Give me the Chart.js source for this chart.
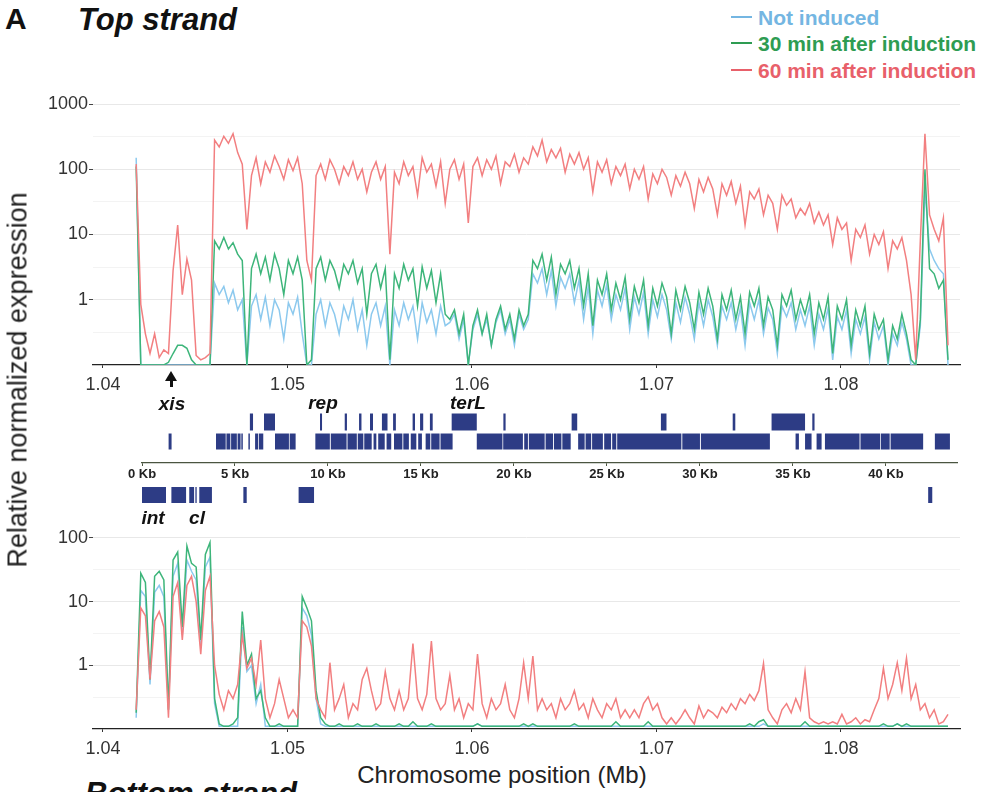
<!DOCTYPE html>
<html><head><meta charset="utf-8">
<script src="https://cdn.jsdelivr.net/npm/chart.js@4.4.1/dist/chart.umd.min.js"></script>
<style>
html,body{margin:0;padding:0;background:#fff;}
body{width:983px;height:792px;overflow:hidden;position:relative;font-family:'Liberation Sans',Arial,Helvetica,sans-serif;color:#111;}
canvas{position:absolute;left:0;}
.t{position:absolute;white-space:nowrap;line-height:1;}
.c{transform:translate(-50%,-50%);}
.gl{position:absolute;font-weight:bold;font-style:italic;font-size:19px;line-height:1;transform:translate(-50%,-50%);color:#111;}
.leg{position:absolute;left:731px;width:21px;height:2px;}
.legt{position:absolute;left:758px;font-weight:bold;font-size:21px;line-height:1;transform:translateY(-50%);white-space:nowrap;}
</style></head>
<body>
<canvas id="topChart" width="983" height="310" style="top:85px"></canvas>
<canvas id="geneRow1" width="983" height="20" style="top:412px"></canvas>
<canvas id="geneRow2" width="983" height="58" style="top:432px"></canvas>
<canvas id="geneRow3" width="983" height="30" style="top:480px"></canvas>
<canvas id="bottomChart" width="983" height="239" style="top:520px"></canvas>

<div class="t" style="left:5px;top:4px;font-weight:bold;font-size:30px;">A</div>
<div class="t" style="left:78px;top:4px;font-weight:bold;font-style:italic;font-size:31px;">Top strand</div>
<div class="t" style="left:85px;top:778px;font-weight:bold;font-style:italic;font-size:31px;">Bottom strand</div>

<div class="leg" style="top:16px;background:#74b6e2"></div>
<div class="legt" style="top:17px;color:#74b6e2">Not induced</div>
<div class="leg" style="top:42px;background:#2e9c52"></div>
<div class="legt" style="top:43px;color:#2e9c52">30 min after induction</div>
<div class="leg" style="top:69px;background:#e8606a"></div>
<div class="legt" style="top:70px;color:#e8606a">60 min after induction</div>

<div class="t" style="left:18px;top:380px;font-size:27px;color:#222;transform:translate(-50%,-50%) rotate(-90deg);">Relative normalized expression</div>
<div class="t c" style="left:502px;top:775px;font-size:24px;color:#222;">Chromosome position (Mb)</div>

<div style="position:absolute;left:165px;top:371px;width:0;height:0;border-left:6px solid transparent;border-right:6px solid transparent;border-bottom:10px solid #111;"></div>
<div style="position:absolute;left:169.5px;top:380px;width:3px;height:7px;background:#111;"></div>
<div class="gl" style="left:172px;top:403px;">xis</div>
<div class="gl" style="left:323px;top:402px;">rep</div>
<div class="gl" style="left:468px;top:402px;">terL</div>
<div class="gl" style="left:153px;top:517px;">int</div>
<div class="gl" style="left:197px;top:517px;">cl</div>

<script>
// ---------------- DATA ----------------
const seriesNames = ['Not induced', '30 min after induction', '60 min after induction'];

// bin positions along the chromosome (Mb)
const positionsMb = [
1.04180,1.04205,1.04230,1.04255,1.04280,1.04305,1.04330,1.04355,
1.04380,1.04405,1.04430,1.04455,1.04480,1.04505,1.04530,1.04555,
1.04580,1.04605,1.04630,1.04655,1.04680,1.04705,1.04730,1.04755,
1.04780,1.04805,1.04830,1.04855,1.04880,1.04905,1.04930,1.04955,
1.04980,1.05005,1.05030,1.05055,1.05080,1.05105,1.05130,1.05155,
1.05180,1.05205,1.05230,1.05255,1.05280,1.05305,1.05330,1.05355,
1.05380,1.05405,1.05430,1.05455,1.05480,1.05505,1.05530,1.05555,
1.05580,1.05605,1.05630,1.05655,1.05680,1.05705,1.05730,1.05755,
1.05780,1.05805,1.05830,1.05855,1.05880,1.05905,1.05930,1.05955,
1.05980,1.06005,1.06030,1.06055,1.06080,1.06105,1.06130,1.06155,
1.06180,1.06205,1.06230,1.06255,1.06280,1.06305,1.06330,1.06355,
1.06380,1.06405,1.06430,1.06455,1.06480,1.06505,1.06530,1.06555,
1.06580,1.06605,1.06630,1.06655,1.06680,1.06705,1.06730,1.06755,
1.06780,1.06805,1.06830,1.06855,1.06880,1.06905,1.06930,1.06955,
1.06980,1.07005,1.07030,1.07055,1.07080,1.07105,1.07130,1.07155,
1.07180,1.07205,1.07230,1.07255,1.07280,1.07305,1.07330,1.07355,
1.07380,1.07405,1.07430,1.07455,1.07480,1.07505,1.07530,1.07555,
1.07580,1.07605,1.07630,1.07655,1.07680,1.07705,1.07730,1.07755,
1.07780,1.07805,1.07830,1.07855,1.07880,1.07905,1.07930,1.07955,
1.07980,1.08005,1.08030,1.08055,1.08080,1.08105,1.08130,1.08155,
1.08180,1.08205,1.08230,1.08255,1.08280,1.08305,1.08330,1.08355,
1.08380,1.08405,1.08430,1.08455,1.08480,1.08505,1.08530,1.08555,
1.08580
];

// Top strand
const topNotInduced = [
150,0.1,0.1,0.1,0.1,0.1,0.1,0.1,0.1,0.1,
0.1,0.1,0.1,0.1,0.1,0.1,0.1,1.8,1.2,1.6,
0.9,1.4,0.7,1,0.1,0.8,1.2,0.5,1.1,0.4,
1,0.7,0.25,0.9,0.6,1.1,0.3,0.1,0.1,0.6,
1,0.4,0.9,0.6,0.3,0.8,0.5,1,0.35,0.7,
0.2,0.6,0.9,0.4,0.8,0.1,0.7,0.4,0.9,0.5,
0.8,0.25,0.9,0.45,0.7,0.3,0.8,0.4,0.45,0.6,
0.25,0.5,0.1,0.35,0.6,0.3,0.5,0.2,0.45,0.7,
0.3,0.5,0.2,0.6,0.35,0.5,2.5,1.8,3,1.2,
2.8,0.8,2.2,1.5,2.5,0.9,2,0.5,1.6,0.3,
1.4,0.8,1.7,0.5,1.2,0.7,1.5,0.35,1.1,0.6,
1.3,0.3,1,0.55,1.2,0.7,0.25,0.9,0.45,1.1,
0.6,0.25,0.9,0.4,1,0.55,0.2,0.8,0.5,0.9,
0.35,0.75,0.2,0.9,0.5,1,0.3,0.75,0.5,0.15,
0.8,0.55,0.9,0.35,0.7,0.4,0.8,0.2,0.6,0.35,
0.75,0.12,0.55,0.35,0.7,0.15,0.5,0.3,0.55,0.12,
0.45,0.25,0.4,0.1,0.3,0.2,0.45,0.25,0.1,0.1,
0.4,50,6,4,3,2.5,0.1];
const top30min = [
110,0.1,0.1,0.1,0.1,0.1,0.1,0.11,0.15,0.2,
0.2,0.18,0.12,0.1,0.1,0.1,0.1,8,6,9,
6,7.5,5,4,0.1,3,5,2.5,4.5,2,
5,3,1.2,4,2.5,4.5,2,0.1,0.12,3,
4.5,2,4,2.8,1.5,3.5,2.5,4,1.8,3,
0.6,2.5,3.5,1.5,3,0.12,2.5,1.5,3.5,2,
3,0.8,3.2,1.5,2.8,0.9,2.5,0.6,0.5,0.7,
0.3,0.6,0.1,0.4,0.7,0.3,0.6,0.2,0.5,0.8,
0.35,0.6,0.25,0.7,0.4,0.6,4,3,5,2,
4.5,1.2,3.5,2.5,4,1.5,3,0.8,2.5,0.4,
2,1.2,2.5,0.7,1.8,1,2.2,0.5,1.6,0.9,
2,0.4,1.5,0.8,1.8,1.1,0.3,1.4,0.7,1.6,
0.9,0.35,1.3,0.6,1.5,0.8,0.25,1.2,0.7,1.4,
0.5,1.1,0.3,1.3,0.8,1.5,0.4,1.1,0.7,0.2,
1.2,0.8,1.4,0.5,1,0.6,1.2,0.3,0.9,0.5,
1.1,0.15,0.8,0.5,1,0.2,0.7,0.4,0.8,0.15,
0.6,0.35,0.5,0.12,0.4,0.25,0.6,0.3,0.12,0.1,
0.5,100,3,2.5,1.5,2,0.12];
const top60min = [
120,0.85,0.3,0.15,0.3,0.13,0.17,0.15,2.8,14,
1.2,4.2,2.0,0.14,0.12,0.13,0.15,280,220,320,
250,350,180,120,12,80,150,60,130,90,
160,110,70,140,95,150,60,4,2,80,
120,70,140,100,60,110,80,130,70,100,
45,90,130,70,110,5,90,60,130,80,
110,40,150,90,120,55,130,30,100,140,
70,120,15,110,150,80,140,100,160,60,
130,110,170,90,150,120,220,160,280,130,
200,150,210,90,170,120,180,100,150,45,
130,90,140,60,110,80,120,50,100,70,
110,35,85,60,100,75,40,80,55,90,
60,25,70,45,75,50,20,60,40,65,
30,55,14,45,35,50,20,40,30,12,
40,28,35,18,25,20,30,15,22,14,
20,7,18,12,15,4,12,9,14,5,
10,7,11,3,8,6,9,4,1.2,0.12,
8,350,20,12,8,18,0.2];

// Bottom strand
const bottomNotInduced = [
0.15,15,12,0.5,14,18,12,0.2,25,40,
3,45,30,22,2,35,50,0.25,0.11,0.11,
0.11,0.11,0.11,4,0.8,1,0.25,0.5,0.11,0.11,
0.11,0.11,0.11,0.11,0.11,0.11,8,6,3,0.3,
0.12,0.11,0.11,0.11,0.11,0.11,0.11,0.11,0.11,0.11,
0.11,0.11,0.11,0.11,0.11,0.11,0.11,0.11,0.11,0.11,
0.11,0.11,0.11,0.11,0.11,0.11,0.11,0.11,0.11,0.11,
0.11,0.11,0.11,0.11,0.12,0.11,0.11,0.11,0.11,0.11,
0.11,0.11,0.11,0.11,0.11,0.11,0.11,0.11,0.11,0.11,
0.11,0.11,0.11,0.11,0.11,0.11,0.11,0.11,0.11,0.11,
0.11,0.11,0.11,0.11,0.11,0.11,0.11,0.11,0.11,0.11,
0.11,0.11,0.11,0.11,0.11,0.11,0.11,0.11,0.11,0.11,
0.11,0.11,0.11,0.11,0.11,0.11,0.11,0.11,0.11,0.11,
0.11,0.11,0.11,0.11,0.11,0.11,0.12,0.11,0.11,0.11,
0.11,0.11,0.11,0.11,0.11,0.11,0.11,0.11,0.11,0.11,
0.11,0.11,0.11,0.11,0.11,0.11,0.11,0.11,0.11,0.11,
0.11,0.11,0.11,0.11,0.11,0.12,0.11,0.11,0.11,0.11,
0.11,0.11,0.11,0.11,0.11,0.11,0.11];
const bottom30min = [
0.18,28,20,0.6,25,30,22,0.2,45,60,
4,75,40,35,2.5,55,85,0.3,0.12,0.11,
0.11,0.12,0.15,7,1,1.5,0.3,0.4,0.15,0.11,
0.11,0.12,0.11,0.11,0.11,0.11,12,8,5,0.4,
0.15,0.12,0.11,0.11,0.12,0.11,0.11,0.11,0.12,0.11,
0.11,0.11,0.12,0.11,0.11,0.11,0.11,0.12,0.11,0.11,
0.13,0.11,0.11,0.11,0.12,0.11,0.11,0.11,0.11,0.11,
0.11,0.11,0.11,0.11,0.12,0.11,0.11,0.11,0.11,0.11,
0.11,0.11,0.11,0.11,0.12,0.11,0.12,0.11,0.11,0.11,
0.11,0.11,0.11,0.11,0.11,0.12,0.11,0.11,0.11,0.11,
0.11,0.11,0.11,0.11,0.13,0.11,0.11,0.11,0.11,0.11,
0.11,0.13,0.11,0.11,0.11,0.11,0.11,0.11,0.11,0.11,
0.11,0.11,0.11,0.11,0.11,0.11,0.11,0.11,0.11,0.11,
0.11,0.11,0.11,0.12,0.11,0.13,0.14,0.11,0.11,0.11,
0.11,0.11,0.11,0.11,0.11,0.13,0.11,0.11,0.11,0.11,
0.11,0.11,0.11,0.11,0.11,0.11,0.11,0.11,0.11,0.11,
0.11,0.11,0.12,0.11,0.11,0.12,0.11,0.12,0.11,0.11,
0.11,0.11,0.11,0.11,0.11,0.11,0.11];
const bottom60min = [
0.2,8,6,0.6,5,7,4,0.15,12,20,
2.5,18,25,10,1.5,15,25,1,0.35,0.2,
0.4,0.3,0.5,3,0.9,1.3,0.5,2.5,0.3,0.15,
0.25,0.6,0.3,0.15,0.2,0.15,5,4,2,0.3,
0.2,0.15,1.1,0.2,0.3,0.5,0.15,0.25,0.2,0.6,
0.9,0.4,0.2,0.25,0.8,0.3,0.2,0.4,0.2,0.3,
2.2,0.3,0.2,0.35,2.4,0.3,0.2,0.25,0.7,0.2,
0.3,0.15,0.25,0.2,1.5,0.25,0.15,0.3,0.2,0.25,
0.5,0.2,0.15,0.3,1.1,0.3,1.4,0.2,0.3,0.2,
0.25,0.15,0.3,0.2,0.25,0.4,0.2,0.25,0.15,0.3,
0.2,0.15,0.25,0.2,0.3,0.15,0.2,0.15,0.2,0.15,
0.25,0.32,0.2,0.25,0.15,0.12,0.15,0.12,0.15,0.2,
0.15,0.12,0.23,0.15,0.2,0.18,0.15,0.22,0.18,0.25,
0.2,0.3,0.25,0.35,0.28,0.4,1.07,0.2,0.15,0.12,
0.2,0.25,0.18,0.3,0.2,0.8,0.15,0.13,0.12,0.13,
0.12,0.13,0.12,0.17,0.12,0.13,0.15,0.12,0.14,0.13,
0.2,0.3,0.9,0.3,0.5,1.1,0.4,1.3,0.3,0.5,
0.2,0.25,0.15,0.2,0.12,0.13,0.17];

// axis ticks
const xTicksMb = [1.04, 1.05, 1.06, 1.07, 1.08];
const yMajorTicks = [1, 10, 100, 1000];
const yMinorGrid = [0.316, 3.16, 31.6, 316];
const kbTicks = [0, 5, 10, 15, 20, 25, 30, 35, 40];

// gene map (start, end in Kb)
const genesFrameA = [[5.8,5.97],[6.56,7.15],[9.57,9.68],[10.9,11.02],[11.67,11.8],[12.26,12.42],[12.9,13.2],[13.5,13.65],[14.55,14.68],[14.95,15.12],[15.48,15.63],[16.65,18.0],[19.43,19.55],[23.1,23.4],[27.9,28.2],[31.76,31.9],[33.85,35.65],[36.04,36.16]];
const genesFrameB = [[1.43,1.59],[3.98,4.5],[4.54,4.75],[4.79,5.1],[5.14,5.3],[5.34,5.42],[5.72,5.8],[6.08,6.25],[6.29,6.52],[7.15,7.9],[7.94,8.26],[9.32,10.1],[10.15,11.0],[11.05,11.55],[11.6,11.9],[11.95,12.35],[12.45,12.6],[12.7,13.05],[13.15,13.4],[13.55,14.0],[14.05,14.35],[14.45,14.75],[14.85,15.05],[15.25,15.5],[15.55,16.0],[16.05,16.7],[18.0,19.38],[19.42,20.48],[20.55,20.75],[20.8,21.65],[21.7,22.1],[22.15,22.55],[22.6,23.05],[23.45,23.8],[23.85,24.15],[24.2,24.78],[24.85,25.22],[25.28,25.5],[25.55,29.0],[29.05,30.0],[30.05,33.76],[35.14,35.32],[35.65,36.0],[36.27,36.54],[36.72,38.58],[38.63,39.68],[39.72,40.2],[40.25,42.0],[42.63,43.44]];
const genesMinus = [[0,1.29],[1.58,2.37],[2.54,2.8],[2.87,2.94],[3.08,3.76],[5.45,5.63],[8.42,9.25],[42.27,42.49]];

// ---------------- STYLE ----------------
const FONT = "'Liberation Sans', Arial, Helvetica, sans-serif";
Chart.defaults.font.family = FONT;
Chart.defaults.animation = false;
const colBlue = '#8cc9ee', colGreen = '#3db57a', colRed = '#f27f80', colGene = '#2d3c85';

const toPoints = vals => positionsMb.map((x, i) => ({x: x, y: vals[i]}));

function lineDs(label, vals, color, order) {
  return {label, data: toPoints(vals), borderColor: color, backgroundColor: color,
    borderWidth: 1.5, pointRadius: 0, tension: 0, order: order, spanGaps: true};
}

function makeExpressionChart(id, vals, yMax, padTop) {
  const isMajor = v => yMajorTicks.includes(v);
  return new Chart(document.getElementById(id), {
    type: 'line',
    data: { datasets: [
      lineDs(seriesNames[0], vals[0], colBlue, 3),
      lineDs(seriesNames[1], vals[1], colGreen, 2),
      lineDs(seriesNames[2], vals[2], colRed, 1)
    ]},
    options: {
      responsive: false, animation: false, events: [],
      layout: { padding: { left: 0, right: 23, top: padTop, bottom: 0 } },
      plugins: { legend: { display: false }, tooltip: { enabled: false } },
      scales: {
        x: {
          type: 'linear', min: 1.03946, max: 1.08645,
          afterBuildTicks: s => { s.ticks = xTicksMb.map(v => ({value: v})); },
          afterFit: s => { s.height = 30; s.paddingLeft = 0; s.paddingRight = 0; },
          ticks: { callback: v => Number(v).toFixed(2), font: {size: 18}, color: '#333', padding: 6, maxRotation: 0, autoSkip: false },
          grid: { drawOnChartArea: false, drawTicks: true, tickLength: 3, tickColor: '#333' },
          border: { display: true, color: '#222', width: 1.3 }
        },
        y: {
          type: 'logarithmic', min: 0.1, max: yMax,
          afterBuildTicks: s => {
            s.ticks = yMajorTicks.concat(yMinorGrid).filter(v => v < yMax && v > 0.1)
              .sort((a, b) => a - b).map(v => ({value: v}));
          },
          afterFit: s => { s.width = 93; s.paddingTop = 0; s.paddingBottom = 0; },
          ticks: { callback: v => isMajor(v) ? String(v) : '', font: {size: 18}, color: '#333', padding: 1, autoSkip: false },
          grid: {
            color: c => (c.tick && isMajor(c.tick.value)) ? '#e8e8e8' : '#f3f3f3',
            tickColor: c => (c.tick && isMajor(c.tick.value)) ? '#444' : 'rgba(0,0,0,0)',
            tickLength: 4, lineWidth: 1
          },
          border: { display: false }
        }
      }
    }
  });
}

makeExpressionChart('topChart', [topNotInduced, top30min, top60min], 1375, 10);
makeExpressionChart('bottomChart', [bottomNotInduced, bottom30min, bottom60min], 143.5, 8);

// gene tracks: one chart per track, same Kb scale
function geneTrack(id, genes, thickness, yMin, yMax, withAxis) {
  const xScale = withAxis ? {
      type: 'linear', min: 0, max: 43.82, offset: false,
      afterBuildTicks: s => { s.ticks = kbTicks.map(v => ({value: v})); },
      afterFit: s => { s.height = 27; s.paddingLeft = 0; s.paddingRight = 0; },
      ticks: { callback: v => v + ' Kb', font: {size: 13, weight: 'bold'}, color: '#222', padding: 1, maxRotation: 0, autoSkip: false },
      grid: { drawOnChartArea: false, drawTicks: true, tickLength: 3, tickColor: '#4a5540' },
      border: { display: true, color: '#4a5540', width: 1.3 }
    } : { type: 'linear', display: false, min: 0, max: 43.82, offset: false };
  return new Chart(document.getElementById(id), {
    type: 'bar',
    data: { datasets: [{
      data: genes.map(g => ({x: g, y: 1})), backgroundColor: colGene, borderWidth: 0,
      barThickness: thickness, inflateAmount: 0, borderSkipped: false }] },
    options: {
      indexAxis: 'y', responsive: false, animation: false, events: [],
      layout: { padding: { left: 142, right: 26, top: 0, bottom: 0 } },
      plugins: { legend: { display: false }, tooltip: { enabled: false } },
      scales: {
        x: xScale,
        y: { type: 'linear', display: false, reverse: true, offset: false, min: yMin, max: yMax }
      }
    }
  });
}
geneTrack('geneRow1', genesFrameA, 17, 0.5, 1.5, false);
geneTrack('geneRow2', genesFrameB, 16, 0.5, 2.13, true);
geneTrack('geneRow3', genesMinus, 16, 0.5, 1.5, false);
</script>
</body></html>
